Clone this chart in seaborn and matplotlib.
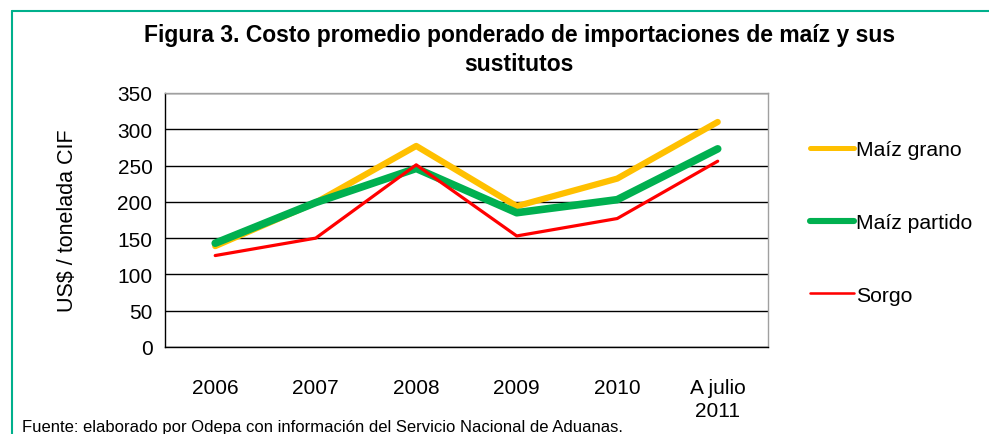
import pandas as pd
import matplotlib.pyplot as plt
import seaborn as sns
from matplotlib.lines import Line2D

categories = ['2006', '2007', '2008', '2009', '2010', 'A julio\n2011']
maiz_grano = [139, 199, 277, 194, 232, 310]
maiz_partido = [143, 199, 246, 185, 203, 273]
sorgo = [126, 150, 251, 153, 177, 256]

series = ['Maíz grano', 'Maíz partido', 'Sorgo']
colors = {'Maíz grano': '#FFC000', 'Maíz partido': '#00B050', 'Sorgo': '#FF0000'}
widths = {'Maíz grano': 4.5, 'Maíz partido': 5.5, 'Sorgo': 2.3}

df = pd.DataFrame({
    'pos': list(range(len(categories))) * 3,
    'valor': maiz_grano + maiz_partido + sorgo,
    'serie': [s for s in series for _ in categories],
})

sns.set_style('white')
plt.rcParams['font.family'] = ['Liberation Sans', 'DejaVu Sans']
plt.rcParams['text.color'] = 'black'
plt.rcParams['xtick.color'] = 'black'
plt.rcParams['ytick.color'] = 'black'
plt.rcParams['axes.labelcolor'] = 'black'

fig = plt.figure(figsize=(9.89, 4.35), dpi=100)
ax = fig.add_axes([0.1668, 0.2, 0.6097, 0.584])

for s in series:
    sns.lineplot(data=df[df['serie'] == s], x='pos', y='valor', color=colors[s],
                 linewidth=widths[s], ax=ax, legend=False, zorder=3)

ax.set_xlim(-0.5, len(categories) - 0.5)
ax.set_ylim(0, 350)
ax.set_yticks(range(0, 351, 50))
ax.yaxis.grid(True, color='black', linewidth=1.0)
ax.set_axisbelow(True)

ax.set_xticks([i - 0.5 for i in range(len(categories) + 1)])
ax.set_xticklabels([])
ax.set_xticks(range(len(categories)), minor=True)
ax.set_xticklabels(categories, minor=True, fontsize=15, linespacing=1.3)
ax.tick_params(axis='x', which='major', direction='out', length=6, width=1, color='black')
ax.tick_params(axis='x', which='minor', length=0, pad=22)
ax.tick_params(axis='y', direction='out', length=5, width=1, color='black', labelsize=15, pad=4)

for side in ['left', 'bottom']:
    ax.spines[side].set_color('black')
    ax.spines[side].set_linewidth(1)
for side in ['top', 'right']:
    ax.spines[side].set_color('#A0A0A0')
    ax.spines[side].set_linewidth(1)

ax.set_xlabel('')
ax.set_ylabel('US$ / tonelada CIF', fontsize=15.5, labelpad=28)

handles = [Line2D([], [], color=colors[s], linewidth=widths[s] * 0.8, solid_capstyle='round') for s in series]
fig.legend(handles, series, loc='upper left', bbox_to_anchor=(0.81, 0.695), frameon=False,
           fontsize=15.2, handlelength=2.1, handletextpad=0.1, labelspacing=2.55,
           borderaxespad=0)

fig.text(0.525, 0.885, 'Figura 3. Costo promedio ponderado de importaciones de maíz y sus\nsustitutos',
         ha='center', va='center', fontsize=16.5, fontweight='bold', linespacing=1.3)
fig.text(0.022, 0.0, 'Fuente: elaborado por Odepa con información del Servicio Nacional de Aduanas.',
         ha='left', va='bottom', fontsize=12)

fig.add_artist(Line2D([0.012, 1.0], [0.972, 0.972], color='#00B08C', linewidth=1.5, transform=fig.transFigure))
fig.add_artist(Line2D([0.012, 0.012], [0.0, 0.972], color='#00B08C', linewidth=1.5, transform=fig.transFigure))

fig.savefig('out.png', dpi=100)
